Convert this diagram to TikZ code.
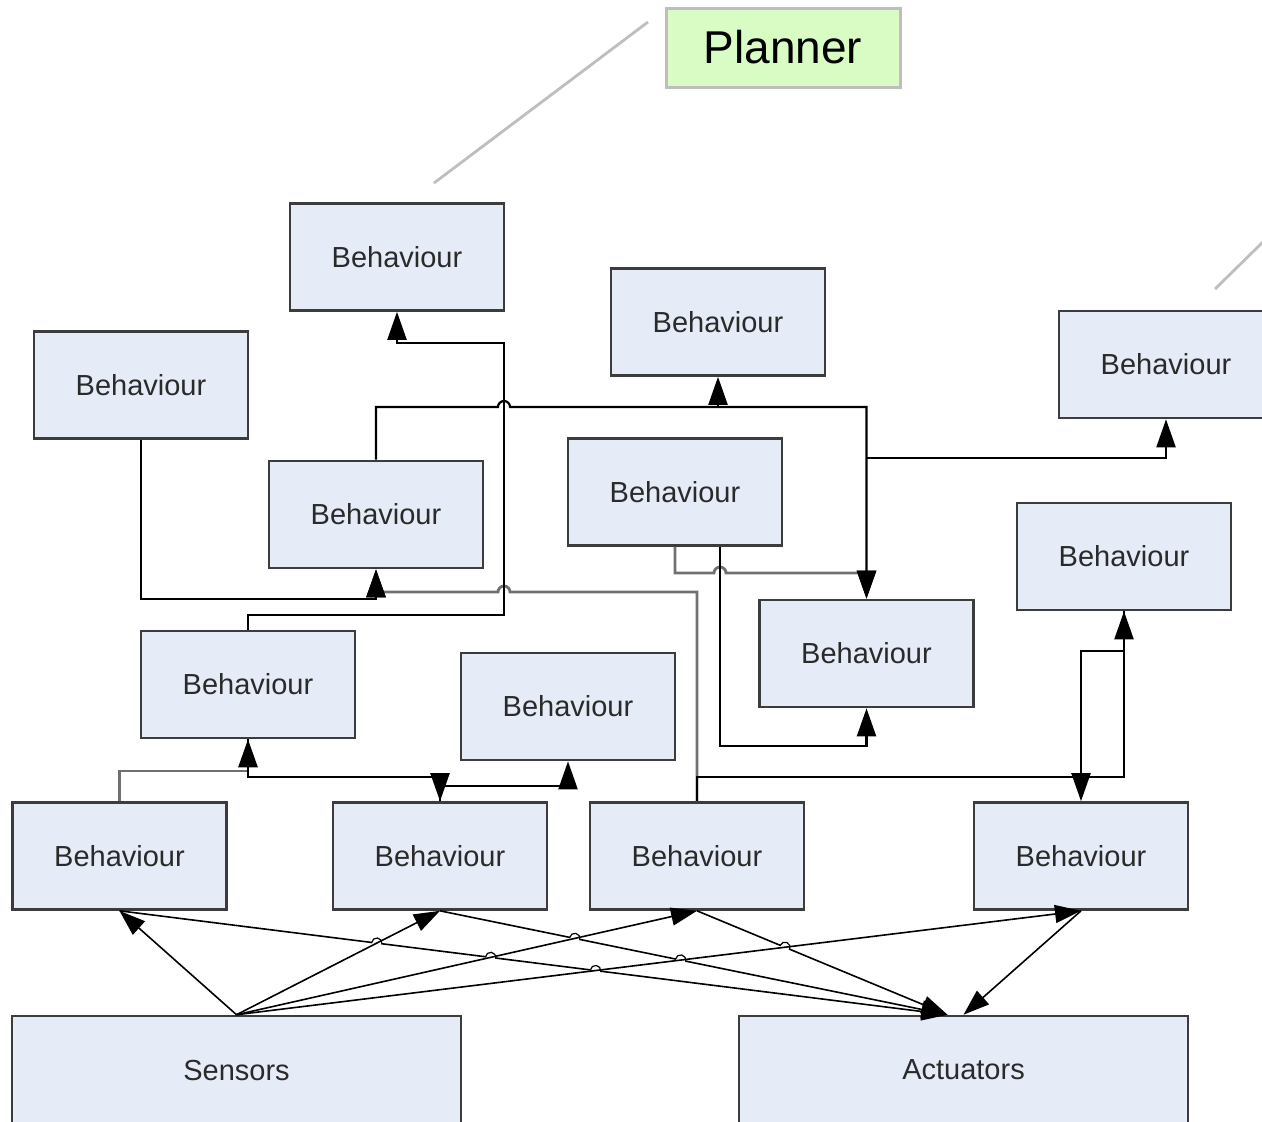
\documentclass[tikz,border=0pt]{standalone}
\usepackage{fontspec}
\setmainfont{Liberation Sans}
\usetikzlibrary{arrows.meta,calc}
\definecolor{boxfill}{HTML}{E6ECF7}
\definecolor{boxline}{HTML}{3C3C3C}
\definecolor{planfill}{HTML}{D8FCC4}
\definecolor{planline}{HTML}{BEBEBE}
\definecolor{wiregray}{HTML}{707070}
\definecolor{labeltext}{HTML}{2A2A2A}
\begin{document}
\begin{tikzpicture}[x=0.5pt,y=-0.5pt,
  beh/.style={draw=boxline,fill=boxfill,line width=1.3pt,minimum width=107pt,minimum height=53.5pt,inner sep=0pt,text=labeltext,font=\fontsize{14.5}{17}\selectfont},
  iobox/.style={beh,minimum width=224.5pt,minimum height=54pt},
  planbox/.style={draw=planline,fill=planfill,line width=1.5pt,minimum width=117pt,minimum height=39.5pt,inner sep=0pt,font=\fontsize{23}{26}\selectfont},
  wire/.style={draw=black,line width=1.1pt},
  wireg/.style={draw=wiregray,line width=1.4pt},
  tip/.style={-{Triangle[length=14pt,width=9.5pt,color=black]}},
  diag/.style={draw=black,line width=0.8pt,-{Triangle[length=13pt,width=9pt]}},
  hump/.style={draw=black,line width=0.6pt},
  guide/.style={draw=planline,line width=1.4pt},
]
\useasboundingbox (0,0) rectangle (1262,1121);
\clip (0,0) rectangle (1262,1121);

% planner and its links down to the behaviour layer
\node[planbox] (planner) at (783,47.5) {Planner};
\coordinate (g1a) at (648,22);   \coordinate (g1b) at (434,183);
\coordinate (g2a) at (1268,237); \coordinate (g2b) at (1215,289);
\draw[guide] (g1a) -- (g1b);
\draw[guide] (g2a) -- (g2b);

% behaviour modules
\node[beh] (b1)  at (397,257)     {Behaviour};
\node[beh] (b2)  at (141,385)     {Behaviour};
\node[beh] (b3)  at (718,322)     {Behaviour};
\node[beh] (b4)  at (1166,364.5)  {Behaviour};
\node[beh] (b5)  at (376,514.5)   {Behaviour};
\node[beh] (b6)  at (675,492)     {Behaviour};
\node[beh] (b7)  at (1124,556.5)  {Behaviour};
\node[beh] (b8)  at (866.5,653.5) {Behaviour};
\node[beh] (b9)  at (248,684.5)   {Behaviour};
\node[beh] (b10) at (568,706.5)   {Behaviour};
\node[beh] (b11) at (119.5,856)   {Behaviour};
\node[beh] (b12) at (440,856)     {Behaviour};
\node[beh] (b13) at (697,856)     {Behaviour};
\node[beh] (b14) at (1081,856)    {Behaviour};
\node[iobox] (sens) at (236.5,1070) {Sensors};
\node[iobox] (act)  at (963.5,1070) {Actuators};

% orthogonal links between behaviours (grey runs first, black on top)
\draw[wireg,tip] (b13.north) -- (697,592) -- (510,592)
  arc[start angle=0,end angle=180,radius=3pt] -- (376,592) -- (b5.south);
\draw[wireg,tip] (b6.south) -- (675,573) -- (714,573)
  arc[start angle=180,end angle=0,radius=3pt] -| (b8.north);
\draw[wireg,tip] (b11.north) |- (248,771) -- (b9.south);

\draw[wire,tip] (b9.north) |- (504,615) -- (504,343) -| (b1.south);

\coordinate (j3) at (718,407);
\coordinate (j4) at (866.5,458);
\draw[wire,tip] (b5.north) -- (376,407) -- (498,407)
  arc[start angle=180,end angle=0,radius=3pt] -- (866.5,407) -- (b8.north);
\draw[wire,tip] (j3) -- (b3.south);
\draw[wire,tip] (j4) -| (b4.south);

\draw[wire,tip] (b2.south) |- (376,599) -- (b5.south);

\draw[wire,tip] ([xshift=22.5pt]b6.south) |- (866.5,746) -- (b8.south);

\draw[wire,tip] (b9.south) |- (440,777) -- (b12.north);
\draw[wire,tip] (b12.north) |- (568,786) -- (b10.south);

\draw[wire,tip] (b13.north) |- (1124,777) -- (b7.south);
\draw[wire,tip] (b7.south) |- (1081,651) -- (b14.north);

% behaviours drive the actuators
\coordinate (a0) at ([xshift=-8pt]act.north);
\draw[diag] (b11.south) -- (a0);
\draw[diag] (b12.south) -- (a0);
\draw[diag] (b13.south) -- (a0);
\draw[diag] (b14.south) -- (act.north);

% line hops where the sensor lines cross
\foreach \ha/\hb/\hc in {b11/b12/-7.4, b11/b13/-7.4, b11/b14/-7.4,
                         b12/b13/-12, b12/b14/-12, b13/b14/-23.3}{
  \coordinate (hx) at (intersection of \ha.south--a0 and sens.north--\hb.south);
  \fill[white] (hx) circle[radius=2.4pt];
  \draw[hump] (hx) ++(\hc+180:2.6pt) arc[start angle=\hc+180,end angle=\hc,radius=2.6pt];
}

% sensors feed the bottom behaviours
\draw[diag] (sens.north) -- (b11.south);
\draw[diag] (sens.north) -- (b12.south);
\draw[diag] (sens.north) -- (b13.south);
\draw[diag] (sens.north) -- (b14.south);
\end{tikzpicture}
\end{document}
